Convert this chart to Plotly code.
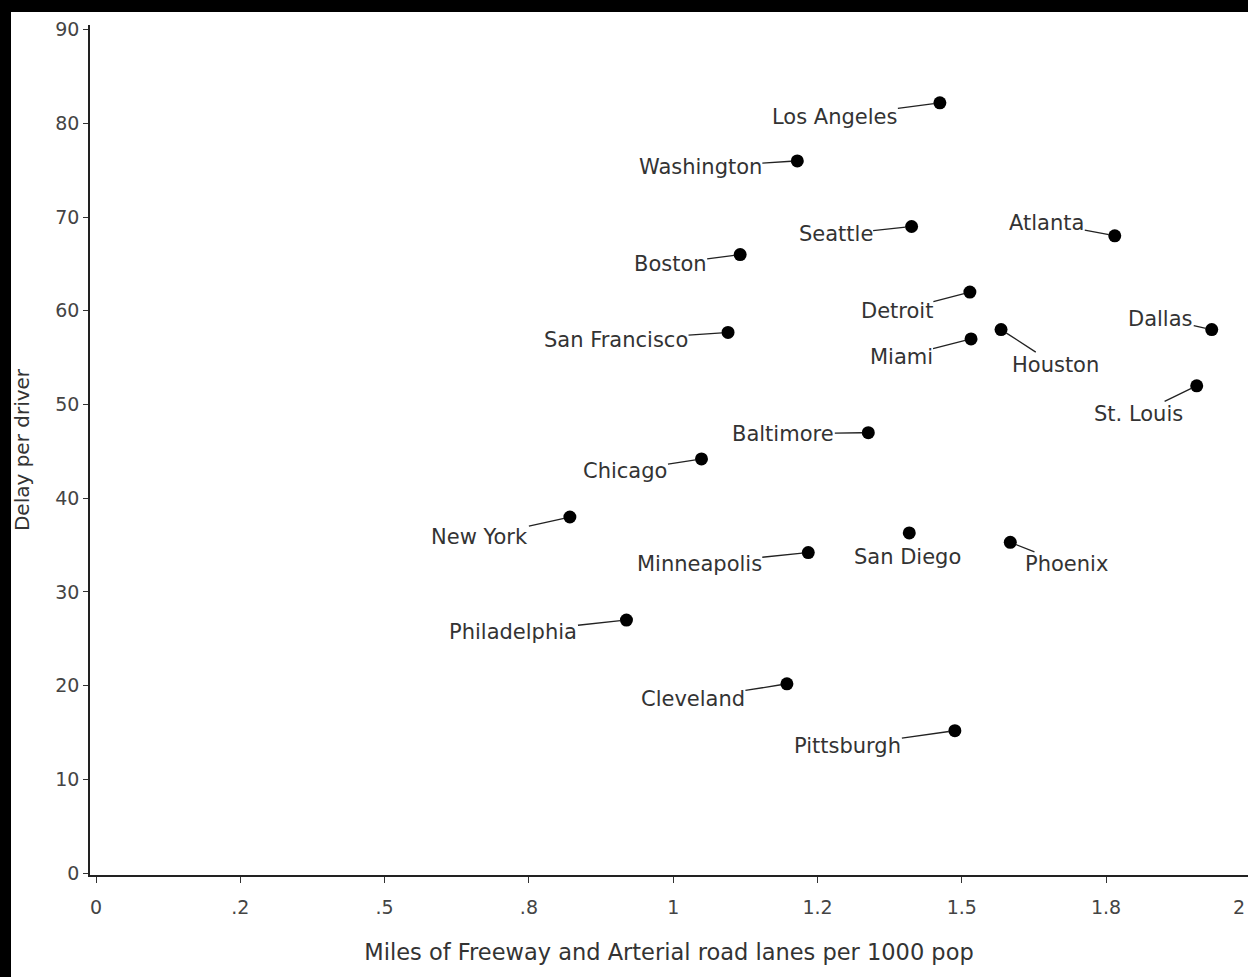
import plotly.graph_objects as go

cities = ["Los Angeles", "Washington", "Seattle", "Atlanta", "Boston", "Detroit",
          "Miami", "Houston", "Dallas", "St. Louis", "San Francisco", "Baltimore",
          "Chicago", "New York", "Minneapolis", "Philadelphia", "San Diego",
          "Phoenix", "Cleveland", "Pittsburgh"]
lane_miles = [1.462, 1.215, 1.413, 1.765, 1.116, 1.514,
              1.516, 1.568, 1.933, 1.907, 1.095, 1.338,
              1.049, 0.821, 1.234, 0.919, 1.409,
              1.584, 1.197, 1.488]
delay = [82.2, 76, 69, 68, 66, 62,
         57, 58, 58, 52, 57.7, 47,
         44.2, 38, 34.2, 27, 36.3,
         35.3, 20.2, 15.2]
# label offsets (pixels) of the label centre from its point
label_dx = [-105, -97, -76, -68, -70, -73, -70, 54, -51, -58, -112, -85,
            -76, -90, -109, -113, -2, 56, -94, -107]
label_dy = [14, 6, 8, -13, 9, 19, 18, 35, -11, 28, 8, 1,
            12, 20, 11, 12, 24, 22, 15, 15]
leader = [True] * 16 + [False] + [True] * 3

x_tickvals = [0, 0.25, 0.5, 0.75, 1, 1.25, 1.5, 1.75]
x_ticktext = ["0", ".2", ".5", ".8", "1", "1.2", "1.5", "1.8"]
x_last_text = "2"
y_tickvals = [0, 10, 20, 30, 40, 50, 60, 70, 80, 90]

W, H = 1248, 977
ML, MR, MT, MB = 90, 0, 25, 102

fig = go.Figure()
fig.add_trace(go.Scatter(
    x=lane_miles, y=delay, mode="markers", text=cities,
    marker=dict(color="black", size=13),
    hovertemplate="%{text}: %{x}, %{y}<extra></extra>",
    showlegend=False,
))

font_family = "DejaVu Sans"
for c, xv, yv, dx, dy, ld in zip(cities, lane_miles, delay, label_dx, label_dy, leader):
    fig.add_annotation(
        x=xv, y=yv, xref="x", yref="y", text=c,
        showarrow=True, ax=dx, ay=dy,
        arrowhead=0, arrowwidth=1.3, arrowcolor="#222" if ld else "rgba(0,0,0,0)",
        standoff=6, borderpad=0,
        font=dict(family=font_family, size=21, color="#333"),
    )

# scanned-page look: black border at top and left
pw = W - ML - MR
ph = H - MT - MB
fig.add_shape(type="rect", xref="paper", yref="paper",
              x0=(11 - ML) / pw, x1=1.0 + 5 / pw,
              y0=-(H - MT - ph) / ph - 0.05, y1=(ph + MT - 12) / ph,
              fillcolor="white", line=dict(width=0), layer="below")

px_per_unit = 577.2
x_min = -6 / px_per_unit
x_max = x_min + pw / px_per_unit

# the last tick label "2" sits at the right edge of the page
fig.add_annotation(
    x=1.0, xref="paper", y=0, yref="paper",
    yanchor="middle", xanchor="right", yshift=-32, xshift=-1,
    text=x_last_text, showarrow=False,
    font=dict(family=font_family, size=19, color="#444"),
)

fig.update_layout(
    width=W, height=H,
    margin=dict(l=ML, r=MR, t=MT, b=MB),
    paper_bgcolor="black", plot_bgcolor="white",
    font=dict(family=font_family, color="#444"),
    xaxis=dict(
        range=[x_min, x_max], tickvals=x_tickvals, ticktext=x_ticktext,
        showgrid=False, zeroline=False, showline=True, linecolor="#222", linewidth=1.5,
        ticks="outside", ticklen=6, tickcolor="#333", tickwidth=1,
        ticklabelstandoff=8,
        tickfont=dict(family=font_family, size=19, color="#444"),
        title=dict(text="Miles of Freeway and Arterial road lanes per 1000 pop",
                   font=dict(family=font_family, size=22.5, color="#333"), standoff=28),
    ),
    yaxis=dict(
        range=[-0.2, 90.5], tickvals=y_tickvals,
        showgrid=False, zeroline=False, showline=True, linecolor="#222", linewidth=1.5,
        ticks="outside", ticklen=5, tickcolor="#333", tickwidth=1,
        tickfont=dict(family=font_family, size=19, color="#444"),
        title=dict(text="Delay per driver",
                   font=dict(family=font_family, size=20, color="#333"), standoff=20),
    ),
)

fig.write_html("out.html", config={"displayModeBar": False},
               post_script="document.body.style.margin='0';document.body.style.overflow='hidden';")
